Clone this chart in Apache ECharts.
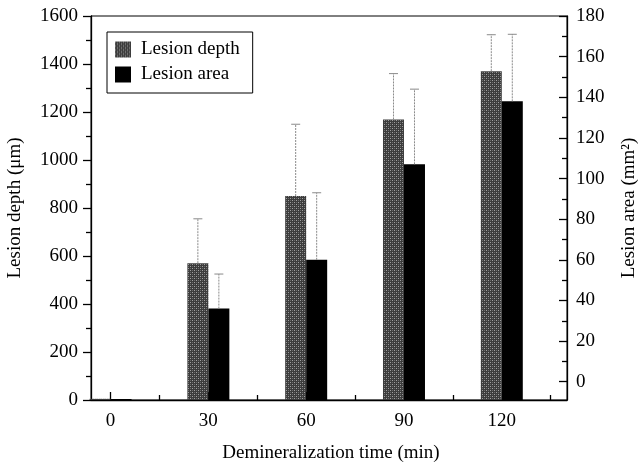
<!DOCTYPE html>
<html>
<head>
<meta charset="utf-8">
<script src="https://cdn.jsdelivr.net/npm/echarts@6/dist/echarts.min.js"></script>
<style>
  html, body { margin: 0; padding: 0; background: #fff; }
  #chart { width: 640px; height: 470px; }
</style>
</head>
<body>
<div id="chart"></div>
<script>
// demineralization time (min)
const times = [0, 30, 60, 90, 120]
// lesion depth (um) and top of its error bar
const depth = [5, 570, 850, 1169, 1370]
const depthUpper = [null, 755, 1149, 1360, 1522]
// lesion area (mm2) and top of its error bar
const area = [-8.5, 36, 60, 107, 138]
const areaUpper = [null, 53, 93, 144, 171]

const xTicks = [0, 30, 60, 90, 120]
const xMinor = [15, 45, 75, 105, 135]
const areaTicks = [0, 20, 40, 60, 80, 100, 120, 140, 160, 180]
const areaMinor = [10, 30, 50, 70, 90, 110, 130, 150, 170]

const AREA_MIN = -9
const BAR_W = 21
const font = "'Liberation Serif', 'Times New Roman', serif"

// speckled grey texture for the depth bars
const tile = document.createElement('canvas')
tile.width = 4
tile.height = 4
const tctx = tile.getContext('2d')
tctx.fillStyle = '#3c3c3c'
tctx.fillRect(0, 0, 4, 4)
tctx.fillStyle = '#a0a0a0'
tctx.fillRect(0, 0, 1, 1)
tctx.fillRect(2, 2, 1, 1)
tctx.fillStyle = '#6a6a6a'
tctx.fillRect(2, 0, 1, 1)
tctx.fillRect(0, 2, 1, 1)
const depthFill = { image: tile, repeat: 'repeat' }

const chart = echarts.init(document.getElementById('chart'))

const barRender = (side, baseVal) => (params, api) => {
  const x = api.value(0)
  const top = api.coord([x, api.value(1)])
  const base = api.coord([x, baseVal])
  return {
    type: 'rect',
    shape: {
      x: side < 0 ? top[0] - BAR_W : top[0],
      y: top[1],
      width: BAR_W,
      height: base[1] - top[1]
    },
    style: api.style()
  }
}

const errRender = (side) => (params, api) => {
  const up = api.value(2)
  if (up == null || isNaN(up)) return null
  const x = api.value(0)
  const a = api.coord([x, api.value(1)])
  const b = api.coord([x, up])
  const cx = a[0] + side * BAR_W / 2
  const st = { stroke: '#8a8a8a', lineWidth: 1 }
  return {
    type: 'group',
    children: [
      { type: 'line', shape: { x1: cx, y1: a[1], x2: cx, y2: b[1] }, style: { ...st, lineDash: [2, 1] } },
      { type: 'line', shape: { x1: cx - 4.5, y1: b[1], x2: cx + 4.5, y2: b[1] }, style: st }
    ]
  }
}

const axisText = { color: '#000', fontFamily: font, fontSize: 19 }
const blk = { color: '#000', width: 1.3 }

// extra x axis that only draws a set of ticks (they come out pointing up
// without labels, so flip them)
const tickAxis = (values, len) => ({
  type: 'value', min: -6, max: 140, position: 'bottom',
  axisLine: { show: false, onZero: false },
  axisTick: { show: true, inside: true, customValues: values, length: len, lineStyle: blk },
  axisLabel: { show: false, customValues: values },
  splitLine: { show: false }
})

const option = {
  animation: false,
  grid: {
    left: 91, right: 73, top: 16, bottom: 70,
    outerBoundsMode: 'none',
    containLabel: false,
    show: true, borderColor: '#000', borderWidth: 1
  },
  legend: {
    left: 107, top: 32,
    orient: 'vertical',
    padding: [8, 13, 9, 8],
    itemWidth: 16, itemHeight: 16, itemGap: 6,
    borderColor: '#000', borderWidth: 1,
    textStyle: { ...axisText, padding: [0, 0, 0, 5] },
    data: [
      { name: 'Lesion depth', icon: 'rect', itemStyle: { color: depthFill } },
      { name: 'Lesion area', icon: 'rect', itemStyle: { color: '#000' } }
    ]
  },
  xAxis: [
    {
      type: 'value', min: -6, max: 140, position: 'bottom',
      name: 'Demineralization time (min)',
      nameLocation: 'middle', nameGap: 44,
      nameTextStyle: { ...axisText, padding: [0, 0, 0, 4] },
      axisLine: { onZero: false, lineStyle: blk },
      axisTick: { show: false },
      axisLabel: { customValues: xTicks, margin: 12, ...axisText },
      splitLine: { show: false }
    },
    tickAxis(xTicks, 8),
    tickAxis(xMinor, 5)
  ],
  yAxis: [
    {
      type: 'value', min: 0, max: 1600, interval: 200, position: 'left',
      name: 'Lesion depth (\u03bcm)',
      nameLocation: 'middle', nameGap: 66, nameRotate: 90,
      nameTextStyle: axisText,
      axisLine: { show: true, onZero: false, lineStyle: blk },
      axisTick: { show: true, length: 8, lineStyle: blk },
      minorTick: { show: true, splitNumber: 2, length: 5, lineStyle: blk },
      axisLabel: { margin: 13, formatter: v => String(v), ...axisText },
      splitLine: { show: false }
    },
    {
      type: 'value', min: AREA_MIN, max: 180, position: 'right',
      name: 'Lesion area (mm\u00b2)',
      nameLocation: 'middle', nameGap: 53, nameRotate: 90,
      nameTextStyle: axisText,
      axisLine: { show: true, onZero: false, lineStyle: blk },
      axisTick: { show: true, inside: true, customValues: areaTicks, length: 8, lineStyle: blk },
      axisLabel: { customValues: areaTicks, margin: 9, ...axisText },
      splitLine: { show: false }
    },
    {
      type: 'value', min: AREA_MIN, max: 180, position: 'right',
      axisLine: { show: false, onZero: false },
      axisTick: { show: true, inside: true, customValues: areaMinor, length: 5, lineStyle: blk },
      axisLabel: { show: false },
      splitLine: { show: false }
    }
  ],
  series: [
    {
      name: 'Lesion depth', type: 'custom', yAxisIndex: 0,
      renderItem: barRender(-1, 0),
      itemStyle: { color: depthFill },
      encode: { x: 0, y: 1 },
      data: times.map((t, i) => [t, depth[i]])
    },
    {
      name: 'Lesion area', type: 'custom', yAxisIndex: 1,
      renderItem: barRender(1, AREA_MIN),
      itemStyle: { color: '#000' },
      encode: { x: 0, y: 1 },
      data: times.map((t, i) => [t, area[i]])
    },
    {
      name: 'depth err', type: 'custom', yAxisIndex: 0,
      renderItem: errRender(-1),
      encode: { x: 0, y: [1, 2] },
      data: times.map((t, i) => [t, depth[i], depthUpper[i]]),
      z: 3
    },
    {
      name: 'area err', type: 'custom', yAxisIndex: 1,
      renderItem: errRender(1),
      encode: { x: 0, y: [1, 2] },
      data: times.map((t, i) => [t, area[i], areaUpper[i]]),
      z: 3
    }
  ]
}

chart.setOption(option)
</script>
</body>
</html>
